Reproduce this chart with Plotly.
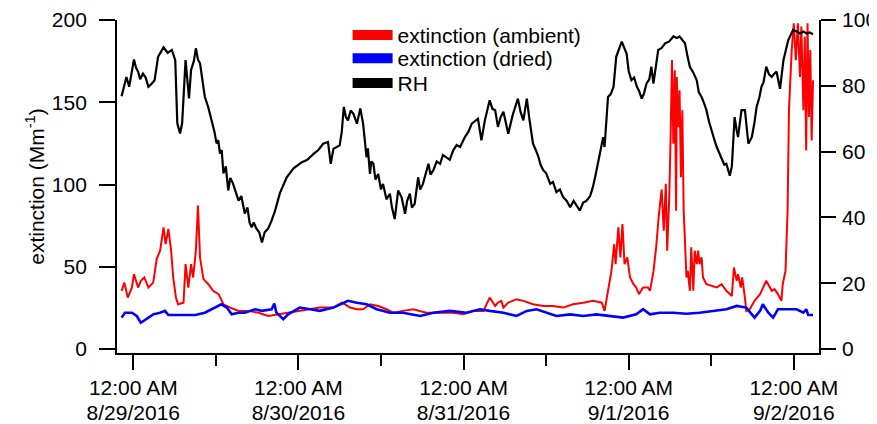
import pandas as pd
import plotly.graph_objects as go

BASE = "2016-08-29 00:00"

# hours relative to 8/29/2016 00:00
rh_hours = [-1.7, -1.3, -1.0, -0.6, -0.2, 0.1, 0.4, 0.7, 1.0, 1.4, 1.8, 2.2, 2.6, 3.1, 3.6, 4.0, 4.4, 5.0, 5.6, 6.1,
            6.4, 6.8, 7.1, 7.6, 8.1, 8.4, 8.8, 9.1, 9.4, 9.7, 10.1, 10.4, 10.9, 11.4, 11.8, 12.1, 12.35, 12.6,
            12.85, 13.1, 13.45, 13.8, 14.1, 14.5, 14.9, 15.3, 15.7, 16.2, 16.6, 16.9, 17.2, 17.5, 17.9, 18.3,
            18.7, 19.1, 19.6, 20.1, 20.6, 21.3, 22.3, 23.3, 24.5, 25.3, 26.2, 26.9, 27.6, 28.3, 28.7, 29.1,
            30.0, 30.3, 30.6, 30.9, 31.2, 31.6, 32.0, 32.5, 33.0, 33.4, 33.9, 34.1, 34.4, 34.6, 34.9, 35.2,
            35.6, 36.0, 36.3, 36.8, 37.3, 37.6, 38.0, 38.5, 39.0, 39.5, 39.8, 40.2, 40.5, 40.9, 41.4, 41.7,
            42.1, 42.5, 42.9, 43.2, 43.6, 44.1, 44.6, 45.0, 45.5, 46.0, 46.5, 47.0, 47.5, 48.2, 48.7, 49.2,
            50.1, 50.6, 51.1, 51.8, 52.2, 52.6, 53.0, 53.4, 53.8, 54.2, 54.5, 54.9, 55.2, 55.9, 56.3, 56.7,
            57.2, 57.6, 58.1, 58.5, 58.9, 59.2, 59.6, 60.0, 60.6, 61.0, 61.5, 62.0, 62.5, 63.0, 63.5, 64.0,
            64.4, 64.9, 65.4, 65.9, 66.4, 66.8, 67.2, 67.6, 68.0, 68.3, 68.5, 69.0, 69.4, 69.8, 70.2, 71.0,
            71.7, 72.0, 72.4, 72.8, 73.2, 73.5, 73.9, 74.2, 74.6, 75.0, 75.3, 75.6, 76.3, 76.8, 77.3, 77.9,
            78.5, 79.0, 79.4, 79.8, 80.2, 80.5, 80.9, 81.4, 81.9, 82.2, 82.6, 83.0, 83.3, 83.7, 84.0, 84.4,
            84.8, 85.2, 85.5, 85.9, 86.2, 86.5, 86.7, 87.0, 87.2, 87.4, 87.7, 87.9, 88.4, 88.9, 89.4, 89.9,
            90.3, 90.6, 91.0, 91.3, 91.6, 92.0, 92.4, 92.8, 93.1, 93.5, 94.0, 94.5, 95.2, 95.9, 96.4, 96.9,
            97.4, 97.9, 98.3, 98.8]
rh_values = [76.8, 80.5, 82.7, 79.7, 85.0, 88.0, 85.5, 84.3, 82.0, 83.7, 82.5, 79.7, 80.5, 81.7, 88.8, 90.5, 91.7, 90.0, 90.9, 87.8,
             68.6, 65.5, 68.6, 87.8, 76.2, 84.8, 87.5, 91.4, 88.0, 86.8, 80.0, 76.6, 73.5, 69.5, 66.0, 62.5, 63.5, 59.4,
             60.5, 53.4, 55.5, 48.2, 52.0, 50.3, 47.5, 45.1, 46.5, 41.2, 43.0, 38.5, 37.0, 38.5, 36.6, 35.5,
             32.4, 35.5, 36.6, 39.0, 42.0, 47.3, 52.2, 54.9, 56.8, 57.5, 59.3, 60.5, 62.4, 62.9, 56.3, 60.9,
             61.9, 66.0, 73.6, 70.5, 69.5, 72.5, 71.5, 68.5, 73.1, 68.5, 58.3, 61.0, 53.2, 57.0, 56.3, 51.5,
             53.2, 48.5, 50.2, 45.5, 47.2, 43.0, 39.5, 48.2, 46.1, 41.1, 45.0, 47.2, 43.0, 44.1, 52.2, 48.5,
             50.2, 53.5, 56.3, 53.0, 54.3, 57.0, 56.3, 59.0, 58.3, 57.5, 60.4, 62.0, 61.4, 64.4, 66.0, 68.5,
             70.0, 63.4, 69.5, 75.6, 73.0, 72.6, 67.5, 70.5, 72.1, 68.0, 65.4, 69.0, 71.5, 76.1, 72.0, 69.5,
             76.1, 69.5, 62.4, 60.5, 58.3, 56.0, 54.3, 53.5, 50.2, 50.8, 47.7, 48.5, 46.1, 45.0, 43.1, 45.0,
             43.6, 42.1, 44.5, 45.1, 46.5, 49.2, 53.0, 57.3, 61.0, 64.4, 61.4, 76.6, 77.5, 79.7, 88.9, 93.4,
             89.8, 84.5, 81.7, 82.5, 79.7, 78.5, 76.1, 77.5, 80.7, 82.0, 85.8, 80.7, 90.9, 91.5, 92.9, 93.5,
             95.0, 94.5, 95.0, 94.0, 92.9, 89.5, 85.8, 84.0, 81.7, 78.0, 76.6, 74.5, 72.6, 69.0, 66.5, 64.0,
             61.4, 59.5, 58.3, 56.0, 56.3, 54.0, 52.7, 55.5, 64.4, 70.5, 66.5, 64.4, 72.6, 72.6, 62.4, 64.4,
             69.0, 73.6, 76.5, 79.7, 81.0, 85.8, 83.5, 82.7, 83.5, 84.3, 79.1, 87.8, 93.9, 97.0, 96.5, 95.9,
             96.5, 95.9, 96.2, 95.7]

amb_hours = [-1.7, -1.3, -0.8, -0.2, 0.1, 0.7, 1.1, 1.6, 2.2, 2.9, 3.4, 3.9, 4.4, 4.7, 5.1, 5.5, 5.8, 6.2,
             6.5, 7.3, 7.6, 8.0, 8.4, 8.7, 9.1, 9.4, 9.7, 10.2, 10.9, 11.6, 12.4, 13.1, 14.1, 15.3, 16.7,
             18.2, 19.6, 21.1, 22.5, 24.2, 25.7, 27.1, 29.1, 30.3, 30.8, 31.5, 32.5, 33.4, 34.4, 35.6, 36.8,
             37.8, 39.2, 40.7, 42.6, 44.6, 46.5, 48.0, 49.4, 50.9, 51.4, 51.8, 52.6, 53.0, 53.5, 53.8, 54.5,
             55.7, 56.7, 58.1, 59.6, 61.0, 62.5, 63.9, 65.4, 66.8, 68.1, 68.5, 69.0, 69.5, 69.9, 70.1, 70.5,
             70.8, 71.1, 71.4, 71.8, 72.2, 72.7, 73.1, 73.5, 74.1, 74.8, 75.1, 75.6, 76.0, 76.4, 76.8, 77.1,
             77.4, 77.6, 77.9, 78.1, 78.3, 78.5, 78.7, 78.9, 79.0, 79.2, 79.4, 79.6, 79.8, 80.0, 80.2, 80.4,
             80.6, 80.9, 81.1, 81.4, 81.6, 81.9, 82.1, 82.3, 82.6, 82.8, 83.3, 84.0, 84.8, 85.5, 86.2, 87.0,
             87.3, 87.7, 87.9, 88.3, 88.5, 88.9, 89.1, 89.6, 90.3, 91.1, 92.0, 92.8, 93.2, 93.7, 94.2, 94.4,
             94.8, 95.1, 95.3, 95.7, 96.0, 96.3, 96.6, 96.9, 97.1, 97.4, 97.6, 97.8, 98.0, 98.2, 98.4, 98.6, 98.8]
amb_values = [35.4, 40.4, 31.3, 37.4, 45.5, 37.4, 41.5, 43.5, 37.4, 40.4, 54.7, 59.8, 74.0, 63.8, 73.0, 59.8, 43.5, 31.3,
              27.2, 28.2, 51.6, 37.4, 51.6, 43.5, 59.8, 87.2, 55.7, 42.5, 39.4, 35.4, 33.4, 27.2, 25.2, 23.2, 23.2,
              22.1, 20.1, 21.1, 22.1, 23.2, 24.2, 25.2, 25.2, 28.2, 27.2, 25.2, 24.2, 24.2, 27.2, 26.2, 24.2,
              22.1, 23.2, 24.2, 22.1, 22.1, 22.1, 21.1, 23.2, 23.2, 27.2, 31.3, 26.2, 28.2, 29.3, 25.2, 28.2,
              30.3, 29.3, 27.2, 26.2, 26.2, 25.2, 27.2, 28.2, 29.3, 28.2, 23.2, 35.4, 47.6, 63.8, 51.6, 74.0,
              55.7, 76.0, 51.6, 55.7, 43.5, 39.4, 37.4, 33.4, 37.4, 37.4, 35.4, 47.0, 62.0, 82.0, 97.0, 72.0,
              100.4, 59.8, 92.3, 128.8, 175.6, 124.8, 169.5, 84.1, 165.4, 134.9, 157.3, 104.4, 145.1, 84.1, 67.9, 43.5,
              47.6, 35.4, 61.8, 35.4, 59.8, 51.6, 59.8, 51.6, 55.7, 43.5, 39.4, 38.4, 37.4, 39.4, 35.4, 32.3,
              49.6, 41.5, 45.5, 37.4, 43.5, 31.3, 23.2, 24.2, 29.3, 33.4, 41.5, 35.4, 36.4, 33.4, 29.3, 39.4,
              47.6, 84.1, 145.1, 181.7, 198.0, 175.6, 198.0, 165.4, 196.0, 145.1, 189.8, 120.7, 198.0, 141.0, 181.7, 126.8, 163.4]

dry_hours = [-1.7, -1.2, -0.2, 0.5, 1.1, 1.9, 2.9, 3.9, 4.6, 5.1, 6.1, 7.5, 9.0, 10.4, 11.4, 12.4, 12.8, 13.6,
             14.3, 15.3, 16.2, 17.7, 18.7, 20.1, 20.5, 20.8, 21.8, 22.5, 23.7, 24.2, 25.7, 27.1, 29.1, 31.2,
             32.5, 33.9, 35.4, 37.3, 39.2, 41.7, 43.6, 46.0, 48.4, 50.4, 51.8, 53.8, 55.7, 57.2, 58.6, 60.1,
             61.5, 63.5, 65.4, 67.3, 69.3, 71.2, 73.1, 74.1, 75.1, 76.5, 78.5, 80.4, 82.3, 84.3, 86.2, 87.7,
             89.1, 90.3, 91.1, 91.5, 92.3, 93.0, 93.7, 94.9, 96.4, 97.4, 97.8, 98.1, 98.8]
dry_values = [19.1, 22.1, 22.1, 20.1, 16.0, 18.1, 21.1, 22.1, 23.2, 20.7, 20.7, 21.1, 20.7, 22.1, 24.2, 26.2, 27.2, 25.2,
              21.1, 22.1, 22.1, 24.2, 23.2, 24.2, 27.6, 22.1, 18.1, 21.1, 24.2, 25.2, 24.2, 23.2, 25.2, 29.3,
              28.2, 27.2, 24.2, 22.1, 22.1, 20.1, 22.1, 23.2, 22.1, 24.2, 23.2, 22.1, 20.1, 23.2, 24.2, 22.1,
              20.1, 21.1, 20.1, 21.1, 20.1, 19.1, 21.1, 24.2, 21.1, 22.1, 22.1, 21.5, 22.1, 23.2, 24.2, 26.2,
              25.2, 19.1, 23.2, 27.2, 22.1, 19.1, 24.2, 24.2, 24.2, 22.1, 24.2, 20.7, 20.7]

day_ticks = ["2016-08-29", "2016-08-30", "2016-08-31", "2016-09-01", "2016-09-02"]
time_labels = ["12:00 AM"] * 5
date_labels = ["8/29/2016", "8/30/2016", "8/31/2016", "9/1/2016", "9/2/2016"]
ext_ticks = [0, 50, 100, 150, 200]
rh_ticks = [0, 20, 40, 60, 80, 100]
x_start, x_end = "2016-08-28 21:38", "2016-09-02 03:40"


def to_time(hours):
    return pd.Timestamp(BASE) + pd.to_timedelta(hours, unit="h")


FONT = "Liberation Sans, Arial, sans-serif"
FS = 21
fig = go.Figure()

fig.add_trace(go.Scatter(x=to_time(rh_hours), y=rh_values, yaxis="y2", mode="lines",
                         line=dict(color="black", width=2.2), showlegend=False))
fig.add_trace(go.Scatter(x=to_time(amb_hours), y=amb_values, mode="lines",
                         line=dict(color="#ff0000", width=2), showlegend=False))
fig.add_trace(go.Scatter(x=to_time(dry_hours), y=dry_values, mode="lines",
                         line=dict(color="#0000ff", width=2.6), showlegend=False))
# empty trace so the date-label axis is drawn
fig.add_trace(go.Scatter(x=day_ticks, y=[None] * len(day_ticks), xaxis="x2", mode="lines",
                         showlegend=False, hoverinfo="skip"))

# legend entries (thick swatches), one legend per row to match row spacing
legend_rows = [("extinction (ambient)", "#ff0000", "legend"),
               ("extinction (dried)", "#0000ff", "legend2"),
               ("RH", "black", "legend3")]
for name, col, lg in legend_rows:
    fig.add_trace(go.Scatter(x=[None], y=[None], mode="lines", name=name, legend=lg,
                             line=dict(color=col, width=10)))

axis_common = dict(showgrid=False, zeroline=False, showline=True, linecolor="black", linewidth=1.8,
                   ticks="outside", tickcolor="black", tickwidth=1.8, automargin=False,
                   tickfont=dict(family=FONT, size=FS, color="black"))

leg_common = dict(xanchor="left", yanchor="middle", bgcolor="rgba(0,0,0,0)",
                  font=dict(family=FONT, size=FS, color="black"), itemwidth=40)
LX = 0.3285

# the page body adds an 8px offset, so the figure is 8px smaller than the window
fig.update_layout(
    width=869, height=416,
    margin=dict(l=109, r=58, t=12, b=71, autoexpand=False),
    paper_bgcolor="white", plot_bgcolor="white",
    font=dict(family=FONT, size=FS, color="black"),
    xaxis=dict(**axis_common, range=[x_start, x_end], tickvals=day_ticks, ticktext=time_labels,
               ticklen=15, tickangle=0, ticklabelstandoff=0,
               minor=dict(dtick=43200000, tick0="2016-08-29", ticklen=11, tickcolor="black",
                          tickwidth=1.8, ticks="outside")),
    xaxis2=dict(range=[x_start, x_end], overlaying="x", anchor="y", side="bottom", showline=False,
                showgrid=False, zeroline=False, ticks="", tickvals=day_ticks, ticktext=date_labels,
                ticklabelstandoff=45, tickangle=0, automargin=False,
                tickfont=dict(family=FONT, size=FS, color="black")),
    yaxis=dict(**axis_common, range=[-2.4, 200], tickvals=ext_ticks, ticklen=16, ticklabelstandoff=8,
               title=dict(text="extinction (Mm<sup>-1</sup>)", font=dict(family=FONT, size=FS), standoff=2)),
    yaxis2=dict(**axis_common, range=[-1.2, 100], overlaying="y", side="right",
                tickvals=rh_ticks, ticklen=15, ticklabelstandoff=2),
    legend=dict(**leg_common, x=LX, y=0.954),
    legend2=dict(**leg_common, x=LX, y=0.884),
    legend3=dict(**leg_common, x=LX, y=0.810),
)
fig.update_yaxes(automargin=True, selector=dict(side="left"))

fig.write_html("out.html")
